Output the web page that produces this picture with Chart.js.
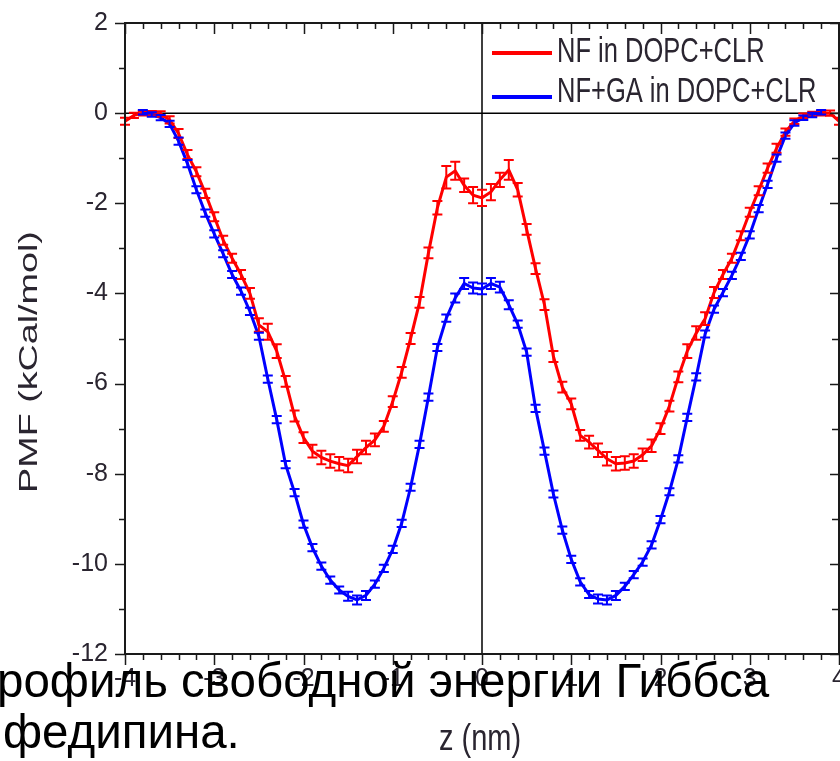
<!DOCTYPE html>
<html>
<head>
<meta charset="utf-8">
<script src="https://cdn.jsdelivr.net/npm/chart.js@4.4.1/dist/chart.umd.min.js"></script>
<style>
    html, body { margin: 0; padding: 0; background: #fff; }
    #wrap { position: relative; width: 840px; height: 761px; overflow: hidden; }
    #pmf-chart { position: absolute; left: 0; top: 0; }
    .slide-line {
        position: absolute;
        font-family: 'Liberation Sans', Arial, sans-serif;
        font-size: 47.5px;
        line-height: 51px;
        color: #000;
        white-space: nowrap;
    }
</style>
</head>
<body>
<div id="wrap">
    <canvas id="pmf-chart" width="840" height="761"></canvas>
    <div class="slide-line" id="line-1" style="left:-3px; top:655px;">рофиль свободной энергии Гиббса</div>
    <div class="slide-line" id="line-2" style="left:3px; top:706px;">федипина.</div>
</div>
<script>
// z positions (nm)
const zValues = [
    -4.0, -3.9, -3.8, -3.7, -3.6, -3.5, -3.4, -3.3, -3.2, -3.1,
    -3.0, -2.9, -2.8, -2.7, -2.6, -2.5, -2.4, -2.3, -2.2, -2.1,
    -2.0, -1.9, -1.8, -1.7, -1.6, -1.5, -1.4, -1.3, -1.2, -1.1,
    -1.0, -0.9, -0.8, -0.7, -0.6, -0.5, -0.4, -0.3, -0.2, -0.1,
    0.0, 0.1, 0.2, 0.3, 0.4, 0.5, 0.6, 0.7, 0.8, 0.9,
    1.0, 1.1, 1.2, 1.3, 1.4, 1.5, 1.6, 1.7, 1.8, 1.9,
    2.0, 2.1, 2.2, 2.3, 2.4, 2.5, 2.6, 2.7, 2.8, 2.9,
    3.0, 3.1, 3.2, 3.3, 3.4, 3.5, 3.6, 3.7, 3.8, 3.9,
    4.0
];

// NF in DOPC+CLR
const nfPmf = [
    -0.18, -0.05, 0.00, 0.00, -0.02, -0.15, -0.45, -0.92, -1.30, -1.78,
    -2.30, -2.82, -3.22, -3.58, -4.00, -4.70, -4.85, -5.28, -5.95, -6.72,
    -7.20, -7.50, -7.64, -7.72, -7.78, -7.82, -7.62, -7.42, -7.25, -6.95,
    -6.40, -5.75, -5.00, -4.20, -3.10, -2.10, -1.42, -1.28, -1.60, -1.82,
    -1.88, -1.75, -1.48, -1.26, -1.70, -2.58, -3.45, -4.25, -5.40, -6.08,
    -6.45, -7.15, -7.30, -7.48, -7.67, -7.78, -7.76, -7.72, -7.58, -7.38,
    -7.00, -6.50, -5.85, -5.28, -4.88, -4.56, -3.98, -3.58, -3.22, -2.72,
    -2.20, -1.72, -1.22, -0.78, -0.42, -0.18, -0.06, -0.02, 0.00, 0.00,
    -0.18
];
const nfErr = [
    0.08, 0.06, 0.05, 0.05, 0.06, 0.08, 0.10, 0.10, 0.10, 0.10,
    0.10, 0.10, 0.10, 0.10, 0.12, 0.15, 0.18, 0.15, 0.12, 0.12,
    0.12, 0.14, 0.15, 0.15, 0.15, 0.15, 0.15, 0.15, 0.14, 0.12,
    0.12, 0.12, 0.12, 0.12, 0.12, 0.15, 0.25, 0.20, 0.15, 0.18,
    0.18, 0.18, 0.16, 0.22, 0.15, 0.12, 0.12, 0.12, 0.12, 0.12,
    0.12, 0.12, 0.14, 0.15, 0.15, 0.15, 0.15, 0.15, 0.14, 0.14,
    0.12, 0.12, 0.12, 0.15, 0.15, 0.14, 0.12, 0.10, 0.10, 0.10,
    0.10, 0.10, 0.10, 0.10, 0.08, 0.06, 0.05, 0.05, 0.05, 0.06,
    0.08
];

// NF+GA in DOPC+CLR
const nfGaPmf = [
    null, null, 0.02, -0.03, -0.10, -0.24, -0.62, -1.12, -1.70, -2.22,
    -2.68, -3.12, -3.58, -3.95, -4.40, -4.95, -5.90, -6.80, -7.80, -8.42,
    -9.12, -9.64, -10.05, -10.36, -10.58, -10.72, -10.80, -10.70, -10.45, -10.10,
    -9.68, -9.10, -8.30, -7.35, -6.30, -5.20, -4.55, -4.10, -3.78, -3.88,
    -3.90, -3.78, -3.86, -4.25, -4.68, -5.30, -6.55, -7.50, -8.45, -9.25,
    -9.90, -10.40, -10.68, -10.78, -10.80, -10.70, -10.50, -10.24, -9.96, -9.58,
    -9.02, -8.40, -7.67, -6.75, -5.85, -4.90, -4.35, -3.98, -3.60, -3.18,
    -2.70, -2.12, -1.58, -1.00, -0.50, -0.22, -0.10, -0.04, 0.02, null,
    null
];
const nfGaErr = [
    0, 0, 0.05, 0.05, 0.06, 0.07, 0.08, 0.08, 0.08, 0.08,
    0.08, 0.08, 0.08, 0.08, 0.08, 0.08, 0.08, 0.08, 0.08, 0.08,
    0.08, 0.08, 0.08, 0.08, 0.08, 0.10, 0.10, 0.10, 0.08, 0.08,
    0.08, 0.08, 0.08, 0.08, 0.08, 0.08, 0.08, 0.10, 0.12, 0.12,
    0.12, 0.12, 0.12, 0.10, 0.08, 0.08, 0.08, 0.08, 0.08, 0.08,
    0.08, 0.08, 0.08, 0.10, 0.10, 0.10, 0.08, 0.08, 0.08, 0.08,
    0.08, 0.08, 0.08, 0.08, 0.08, 0.08, 0.08, 0.08, 0.08, 0.08,
    0.08, 0.08, 0.08, 0.08, 0.07, 0.06, 0.05, 0.05, 0.05, 0,
    0
];

const seriesLabels = ['NF in DOPC+CLR', 'NF+GA in DOPC+CLR'];
const seriesColors = ['#ff0000', '#0000ff'];

const xTitle = 'z (nm)';
const yTitle = 'PMF (kCal/mol)';

const textColor = '#2a2530';
const axisColor = '#1a1a1a';

function toPoints(values) {
    return zValues.map((z, i) => ({ x: z, y: values[i] }));
}

// error bars, axis frame with minor ticks, legend and stretched titles
const pmfDecor = {
    id: 'pmfDecor',
    beforeDatasetsDraw(chart) {
        const { ctx, chartArea: a, scales: { x, y } } = chart;
        ctx.save();
        ctx.strokeStyle = '#000';
        ctx.lineWidth = 1.5;
        ctx.beginPath();
        ctx.moveTo(a.left, y.getPixelForValue(0));
        ctx.lineTo(a.right, y.getPixelForValue(0));
        ctx.moveTo(x.getPixelForValue(0), a.top);
        ctx.lineTo(x.getPixelForValue(0), a.bottom);
        ctx.stroke();
        ctx.restore();
    },
    afterDatasetsDraw(chart) {
        const { ctx, scales: { y } } = chart;
        const errs = [nfErr, nfGaErr];
        [0, 1].forEach(di => {
            const meta = chart.getDatasetMeta(di);
            const vals = chart.data.datasets[di].data;
            ctx.save();
            ctx.strokeStyle = seriesColors[di];
            ctx.lineWidth = 2;
            meta.data.forEach((pt, j) => {
                const v = vals[j].y;
                if (v === null || pt.skip) return;
                const e = errs[di][j];
                const px = pt.x;
                const yTop = y.getPixelForValue(v + e);
                const yBot = y.getPixelForValue(v - e);
                ctx.beginPath();
                ctx.moveTo(px, yTop);
                ctx.lineTo(px, yBot);
                ctx.moveTo(px - 5, yTop);
                ctx.lineTo(px + 5, yTop);
                ctx.moveTo(px - 5, yBot);
                ctx.lineTo(px + 5, yBot);
                ctx.stroke();
            });
            ctx.restore();
        });
    },
    afterDraw(chart) {
        const { ctx, chartArea: a, scales: { x, y } } = chart;
        ctx.save();

        // frame
        ctx.strokeStyle = axisColor;
        ctx.lineWidth = 2;
        ctx.strokeRect(a.left, a.top, a.right - a.left, a.bottom - a.top);

        // x ticks: major every 1, minor every 0.2
        ctx.lineWidth = 1.5;
        ctx.beginPath();
        for (let k = -20; k <= 20; k++) {
            const px = Math.round(x.getPixelForValue(k / 5)) + 0.5;
            const major = k % 5 === 0;
            const len = major ? 11 : 6;
            ctx.moveTo(px, a.bottom);
            ctx.lineTo(px, a.bottom + len);
            ctx.moveTo(px, a.top);
            ctx.lineTo(px, a.top + len);
        }
        // y ticks: major every 2, minor every 1
        for (let v = -12; v <= 2; v++) {
            const py = Math.round(y.getPixelForValue(v)) + 0.5;
            const major = v % 2 === 0;
            const len = major ? 10 : 6;
            ctx.moveTo(a.left, py);
            ctx.lineTo(a.left - len, py);
            ctx.moveTo(a.right, py);
            ctx.lineTo(a.right - (major ? 9 : 7), py);
        }
        ctx.stroke();

        // legend
        const items = [
            { y: 52, lineY: 53 },
            { y: 92, lineY: 97 }
        ];
        chart.data.datasets.forEach((ds, i) => {
            ctx.strokeStyle = ds.borderColor;
            ctx.lineWidth = 4;
            ctx.beginPath();
            ctx.moveTo(492, items[i].lineY);
            ctx.lineTo(552, items[i].lineY);
            ctx.stroke();
            ctx.save();
            ctx.translate(557, items[i].y);
            ctx.scale(1, 1.4);
            ctx.fillStyle = textColor;
            ctx.font = '25.5px "Liberation Sans", Arial, sans-serif';
            ctx.textAlign = 'left';
            ctx.textBaseline = 'middle';
            ctx.fillText(ds.label, 0, 0);
            ctx.restore();
        });

        // axis titles
        ctx.fillStyle = textColor;
        ctx.textAlign = 'center';
        ctx.textBaseline = 'middle';
        ctx.save();
        ctx.translate(30, 362);
        ctx.rotate(-Math.PI / 2);
        ctx.scale(1.45, 1);
        ctx.font = '26px "Liberation Sans", Arial, sans-serif';
        ctx.fillText(yTitle, 0, 0);
        ctx.restore();

        ctx.save();
        ctx.translate(480, 740);
        ctx.scale(1, 1.25);
        ctx.font = '29px "Liberation Sans", Arial, sans-serif';
        ctx.fillText(xTitle, 0, 0);
        ctx.restore();

        ctx.restore();
    }
};

document.addEventListener('DOMContentLoaded', () => {
    const canvas = document.getElementById('pmf-chart');

    new Chart(canvas, {
        type: 'line',
        data: {
            datasets: [
                {
                    label: seriesLabels[0],
                    data: toPoints(nfPmf),
                    borderColor: seriesColors[0],
                    backgroundColor: seriesColors[0],
                    borderWidth: 3,
                    pointRadius: 0,
                    tension: 0,
                    order: 2
                },
                {
                    label: seriesLabels[1],
                    data: toPoints(nfGaPmf),
                    borderColor: seriesColors[1],
                    backgroundColor: seriesColors[1],
                    borderWidth: 3,
                    pointRadius: 0,
                    tension: 0,
                    order: 1
                }
            ]
        },
        options: {
            responsive: false,
            animation: false,
            devicePixelRatio: 1,
            layout: { padding: { top: 23, right: 1, left: 0, bottom: 0 } },
            plugins: {
                legend: { display: false },
                tooltip: { enabled: false }
            },
            scales: {
                x: {
                    type: 'linear',
                    min: -4,
                    max: 4,
                    grid: { display: false, drawTicks: false },
                    border: { display: false },
                    ticks: {
                        stepSize: 1,
                        padding: 10,
                        color: textColor,
                        font: { family: '"Liberation Sans", Arial, sans-serif', size: 25 },
                        maxRotation: 0
                    },
                    afterFit(scale) {
                        scale.height = 107;
                        scale.paddingLeft = 0;
                        scale.paddingRight = 0;
                    }
                },
                y: {
                    type: 'linear',
                    min: -12,
                    max: 2,
                    grid: { display: false, drawTicks: false },
                    border: { display: false },
                    ticks: {
                        stepSize: 2,
                        padding: 17,
                        color: textColor,
                        font: { family: '"Liberation Sans", Arial, sans-serif', size: 25 }
                    },
                    afterFit(scale) {
                        scale.width = 125;
                        scale.paddingTop = 0;
                        scale.paddingBottom = 0;
                    }
                }
            }
        },
        plugins: [pmfDecor]
    });
});
</script>
</body>
</html>
